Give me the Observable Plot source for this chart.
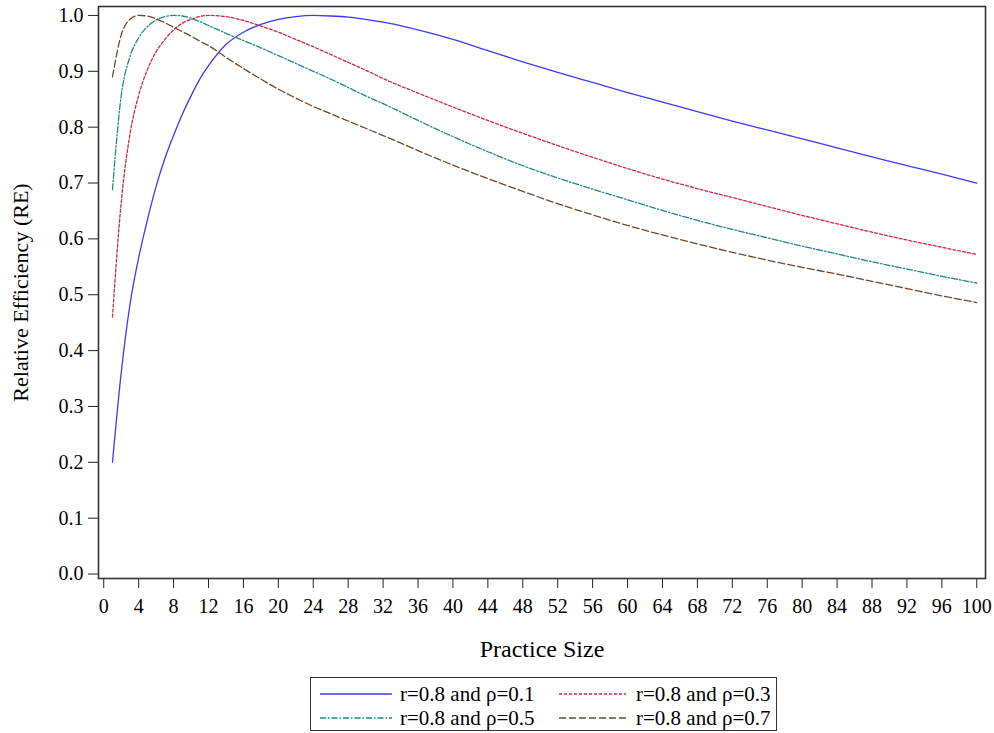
<!DOCTYPE html>
<html>
<head>
<meta charset="utf-8">
<script src="https://cdn.jsdelivr.net/npm/d3@7"></script>
<script src="https://cdn.jsdelivr.net/npm/@observablehq/plot@0.6"></script>
<style>
  body { margin: 0; background: #fff; font-family: "Liberation Serif", "Times New Roman", serif; }
  #wrap { position: relative; width: 994px; height: 733px; }
  #chart svg text { font-family: "Liberation Serif", "Times New Roman", serif !important; font-variant-numeric: normal !important; }
  #legend { position: absolute; left: 310px; top: 677px; width: 467px; height: 54px; border: 1px solid #333; box-sizing: border-box; font-size: 21px; color: #000; }
  .item { position: absolute; height: 26px; display: flex; align-items: center; white-space: nowrap; }
  .item svg { display: block; }
  g[aria-label="x-axis label"] text { font-size: 24px; }
  g[aria-label="y-axis label"] text { font-size: 22px; }
</style>
</head>
<body>
<div id="wrap"><div id="chart"></div><div id="legend"></div></div>
<script>
// ---- data ----
const practiceSize = [1,2,3,4,5,6,7,8,9,10,11,12,14,16,18,20,22,24,26,28,30,32,36,40,44,48,52,56,60,64,68,72,76,80,84,88,92,96,100];
const reRho01 = [0.200,0.360,0.482,0.566,0.634,0.694,0.744,0.785,0.823,0.856,0.886,0.910,0.948,0.970,0.984,0.993,0.998,1.000,0.999,0.997,0.993,0.988,0.974,0.957,0.937,0.917,0.898,0.880,0.862,0.845,0.828,0.811,0.795,0.779,0.763,0.747,0.731,0.716,0.700];
const reRho03 = [0.460,0.665,0.787,0.857,0.903,0.935,0.957,0.974,0.986,0.993,0.998,1.000,0.998,0.991,0.981,0.970,0.957,0.944,0.930,0.916,0.902,0.887,0.861,0.836,0.812,0.789,0.767,0.746,0.726,0.707,0.690,0.674,0.658,0.642,0.627,0.612,0.598,0.585,0.572];
const reRho05 = [0.688,0.856,0.926,0.960,0.980,0.992,0.998,1.000,0.999,0.995,0.989,0.982,0.968,0.955,0.942,0.928,0.914,0.900,0.886,0.871,0.856,0.842,0.812,0.783,0.756,0.731,0.709,0.689,0.670,0.651,0.633,0.617,0.602,0.587,0.573,0.559,0.546,0.533,0.521];
const reRho07 = [0.890,0.965,0.993,1.000,0.999,0.994,0.987,0.979,0.971,0.963,0.954,0.946,0.925,0.905,0.886,0.868,0.852,0.837,0.824,0.811,0.798,0.785,0.758,0.732,0.708,0.685,0.663,0.643,0.624,0.607,0.591,0.576,0.562,0.549,0.537,0.524,0.511,0.498,0.486];
const seriesLabels = ["r=0.8 and \u03c1=0.1", "r=0.8 and \u03c1=0.3", "r=0.8 and \u03c1=0.5", "r=0.8 and \u03c1=0.7"];
const xTicks = [0,4,8,12,16,20,24,28,32,36,40,44,48,52,56,60,64,68,72,76,80,84,88,92,96,100];
const yTicks = [0,0.1,0.2,0.3,0.4,0.5,0.6,0.7,0.8,0.9,1.0];

// ---- styles ----
const seriesColors = ["#3a3aff", "#cc2a45", "#1f8a82", "#6e4a2a"];
const seriesDash = [null, "3,2", "6,2,1.5,2", "7,3"];
const seriesValues = [reRho01, reRho03, reRho05, reRho07];

const rows = [];
seriesValues.forEach((vals, s) => vals.forEach((v, i) => rows.push({series: seriesLabels[s], x: practiceSize[i], y: v})));

const chart = Plot.plot({
  width: 994,
  height: 670,
  marginLeft: 98,
  marginRight: 9,
  marginTop: 6,
  marginBottom: 92,
  style: { fontFamily: "Liberation Serif, Times New Roman, serif", fontSize: "20px", color: "#000", background: "#fff" },
  x: { domain: [-0.6, 101], ticks: xTicks },
  y: { domain: [-0.008, 1.016], ticks: yTicks },
  marks: [
    Plot.axisX({ ticks: xTicks, tickSize: 10, tickPadding: 10, label: "Practice Size", labelArrow: "none", labelAnchor: "center", labelOffset: 78, fontSize: 20, stroke: "#222" }),
    Plot.axisY({ ticks: yTicks, tickFormat: d3.format(".1f"), tickSize: 10, tickPadding: 5, label: "Relative Efficiency (RE)", labelArrow: "none", labelAnchor: "center", labelOffset: 86, fontSize: 20, stroke: "#222" }),
    ...seriesLabels.map((lab, s) => Plot.line(rows.filter(d => d.series === lab), {
      x: "x", y: "y", stroke: seriesColors[s], strokeWidth: 1.3, strokeDasharray: seriesDash[s], curve: "monotone-x"
    })),
    Plot.frame({ stroke: "#333", strokeWidth: 1.6 })
  ]
});
document.getElementById("chart").appendChild(chart);

// ---- legend below the plot ----
const legend = document.getElementById("legend");
const itemPos = [
  { left: 9, top: 3, sw: 72, gap: 8 },
  { left: 248, top: 3, sw: 67, gap: 10 },
  { left: 9, top: 27, sw: 72, gap: 8 },
  { left: 248, top: 27, sw: 67, gap: 10 }
];
seriesLabels.forEach((lab, s) => {
  const p = itemPos[s];
  const it = document.createElement("div");
  it.className = "item";
  it.style.left = p.left + "px";
  it.style.top = p.top + "px";
  const svg = d3.create("svg").attr("width", p.sw).attr("height", 10);
  svg.append("line").attr("x1", 0).attr("x2", p.sw).attr("y1", 5).attr("y2", 5)
    .attr("stroke", seriesColors[s]).attr("stroke-width", 1.3)
    .attr("stroke-dasharray", seriesDash[s]);
  it.appendChild(svg.node());
  const sp = document.createElement("span");
  sp.style.marginLeft = p.gap + "px";
  sp.textContent = lab;
  it.appendChild(sp);
  legend.appendChild(it);
});
</script>
</body>
</html>
